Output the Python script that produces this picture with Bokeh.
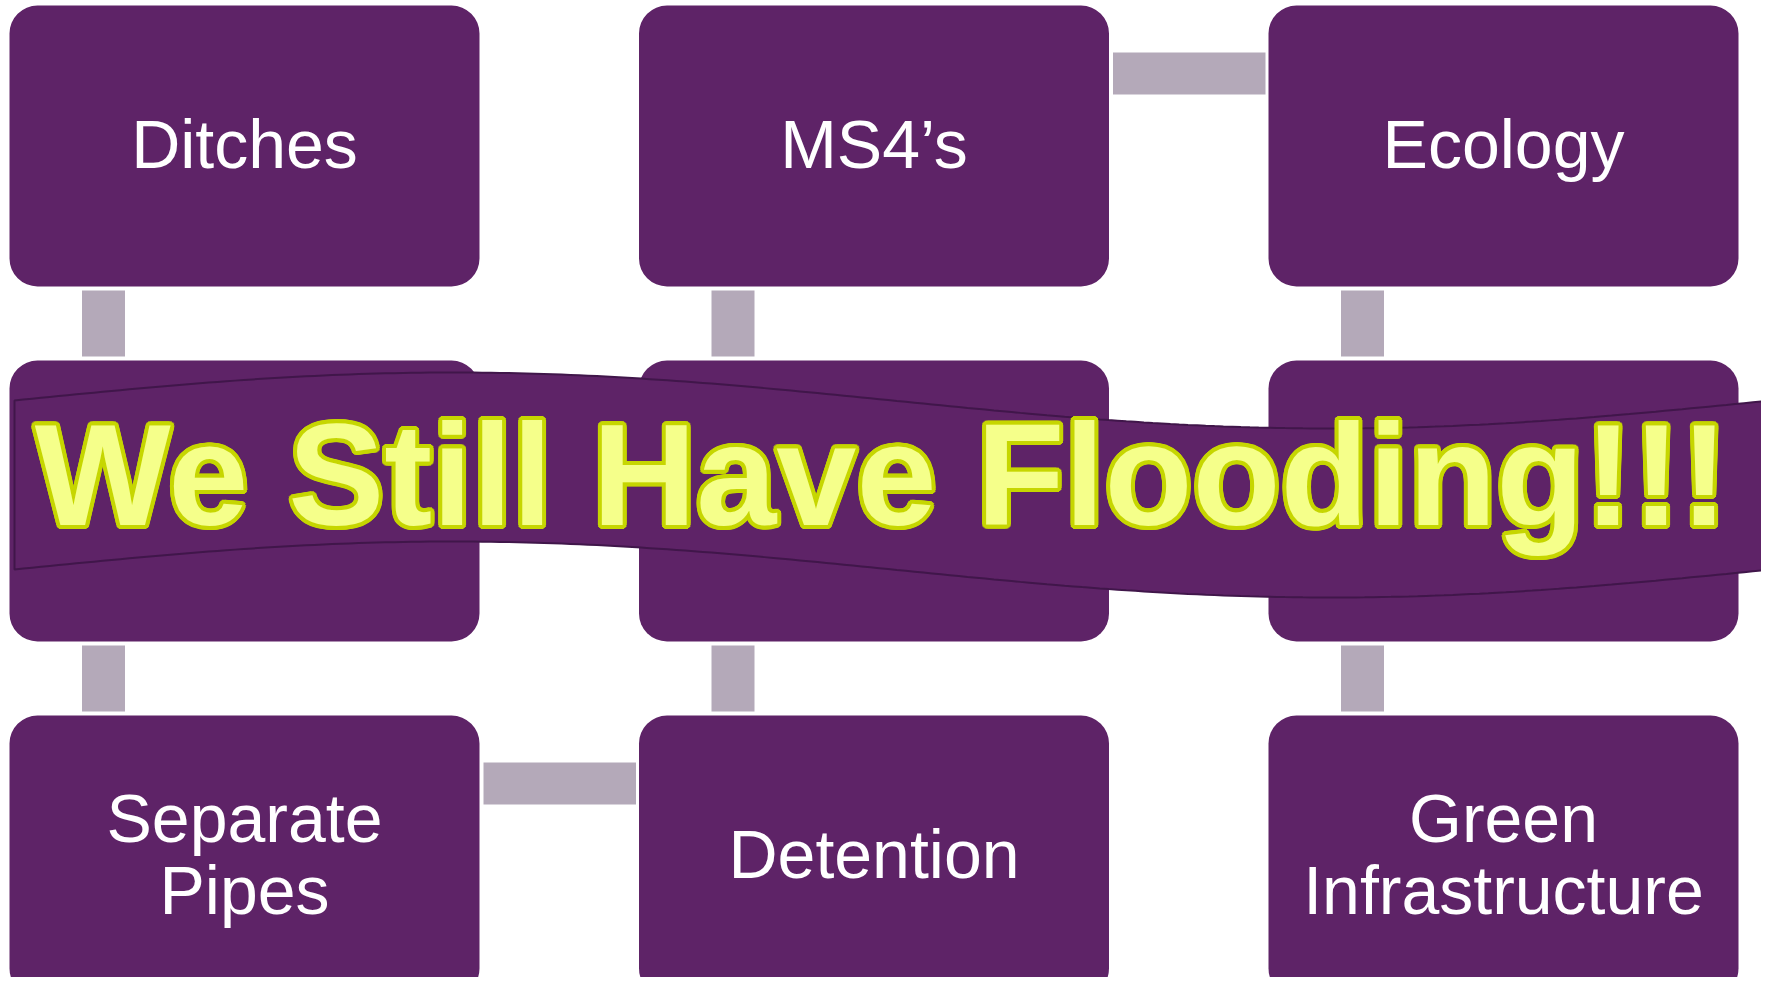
import numpy as np
from bokeh.plotting import figure
from bokeh.models import Range1d
from bokeh.core.properties import value
from bokeh.embed import file_html
from bokeh.resources import INLINE

# ---- data ----
labels = ["Ditches", "MS4\u2019s", "Ecology",
          "", "", "",
          "Separate\nPipes", "Detention", "Green\nInfrastructure"]
rows = [0, 0, 0, 1, 1, 1, 2, 2, 2]
cols = [0, 1, 2, 0, 1, 2, 0, 1, 2]
# connectors: (row, col) of the box they start from
v_links = [(0, 0), (0, 1), (0, 2), (1, 0), (1, 1), (1, 2)]
h_links = [(0, 1), (2, 0)]
banner_text = "We Still Have Flooding!!!"

# ---- layout ----
W, H = 1761, 977
col_left = [9, 638.5, 1268]
row_top = [5, 360, 715]
bw, bh = 470, 281

BOX = "#5E2367"
LINK = "#B4A9B9"

p = figure(width=W, height=H, output_backend="svg", toolbar_location=None,
           x_range=Range1d(0, W), y_range=Range1d(H, 0),
           min_border=0, outline_line_color=None)
p.axis.visible = False
p.grid.visible = False
p.background_fill_color = "white"

# connectors
vl = [col_left[c] + 0.2 * bw - 21.5 for r, c in v_links]
vr = [x + 43 for x in vl]
vt = [row_top[r] + bh + 4 for r, c in v_links]
vb = [row_top[r + 1] - 4 for r, c in v_links]
p.quad(left=vl, right=vr, top=vt, bottom=vb, fill_color=LINK, line_color=None)
hl = [col_left[c] + bw + 4 for r, c in h_links]
hr = [col_left[c + 1] - 3 for r, c in h_links]
ht = [row_top[r] + 47 for r, c in h_links]
hb = [row_top[r] + 89 for r, c in h_links]
p.quad(left=hl, right=hr, top=ht, bottom=hb, fill_color=LINK, line_color=None)

# boxes
bl = [col_left[c] for c in cols]
br = [col_left[c] + bw for c in cols]
bt = [row_top[r] for r in rows]
bb = [row_top[r] + bh for r in rows]
p.quad(left=bl, right=br, top=bt, bottom=bb, fill_color=BOX, line_color=None,
       border_radius=28)

cx = [col_left[c] + bw / 2 for c in cols]
cy = [row_top[r] + bh / 2 - 2 for r in rows]
p.text(x=cx, y=cy, text=labels, text_align="center", text_baseline="middle",
       text_font=value("Liberation Sans"), text_font_size="68px",
       text_color="white", text_line_height=0.94)

# banner (wavy flag)
xl, xr = 14, 1770
t = np.linspace(0, 1, 200)
xs = xl + (xr - xl) * t
top = 400 - 28 * np.sin(2 * np.pi * t)
bot = 569 - 28 * np.sin(2 * np.pi * t)
px = np.concatenate([xs, xs[::-1]])
py = np.concatenate([top, bot[::-1]])
p.patch(px, py, fill_color=BOX, line_color="#40164A", line_width=2)

# banner text: outline made from offset copies, then fill on top
ang = np.linspace(0, 2 * np.pi, 16, endpoint=False)
r = 4.0
n = len(ang)
tx, ty = 881, 475
p.text(x=[tx] * n, y=[ty] * n, text=[banner_text] * n,
       x_offset=list(r * np.cos(ang)), y_offset=list(r * np.sin(ang)),
       text_align="center", text_baseline="alphabetic",
       text_font=value("Liberation Sans"), text_font_style="bold",
       text_font_size="144px", text_color="#C6D600")
p.text(x=[tx], y=[ty], text=[banner_text], text_align="center",
       text_baseline="alphabetic", text_font=value("Liberation Sans"),
       text_font_style="bold", text_font_size="144px",
       text_color="#F5FF8A")

open("out.html", "w").write(file_html(p, INLINE))
